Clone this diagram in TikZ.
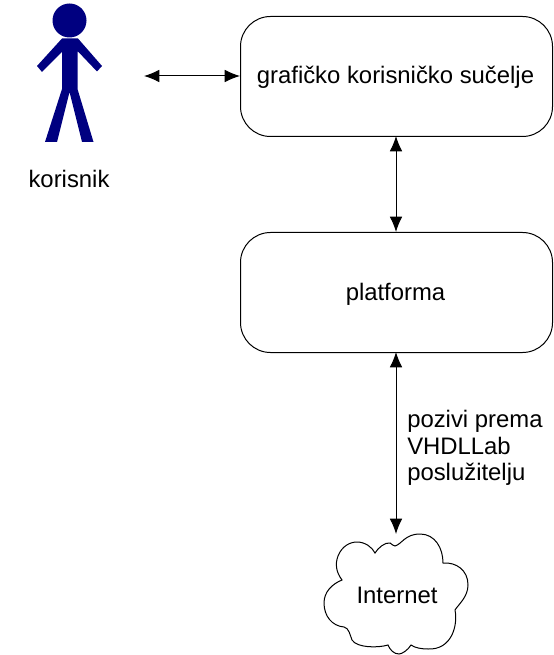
\documentclass[tikz,border=0pt]{standalone}
\usepackage{fontspec}
\setmainfont{Liberation Sans}
\usetikzlibrary{arrows.meta}
\definecolor{personblue}{RGB}{0,0,128}
\tikzset{
  x=0.75pt,y=-0.75pt,
  box/.style={draw=black,line width=0.75pt,rounded corners=22.5pt,minimum width=234pt,minimum height=90pt,inner sep=0pt,fill=white,anchor=north west},
  lbl/.style={font=\fontsize{17.9pt}{20pt}\selectfont,inner sep=0pt,text=black},
  link/.style={line width=0.75pt,{Latex[length=11.5pt,width=9.5pt]}-{Latex[length=11.5pt,width=9.5pt]}},
  person/.style={fill=personblue,draw=none},
}
\begin{document}
\begin{tikzpicture}
\useasboundingbox (0,0) rectangle (553,655);
\node[box] (gui) at (240,16) {};
\node[lbl] (guilabel) at (395.5,77) {grafičko korisničko sučelje};
\node[box] (plat) at (240,232) {};
\node[lbl] (platlabel) at (395.5,294) {platforma};
% person
\fill[person] (69.5,20.5) circle[radius=17];
\fill[person] (62,38.5) -- (78,38.5) -- (102,66) -- (97,71.5) -- (77.5,51) -- (77.5,89) -- (93.5,142) -- (82,142) -- (69.5,92) -- (57,142) -- (45,142) -- (62,89) -- (62,52) -- (42,72) -- (37,66) -- cycle;
\node[lbl] (user) at (69,179) {korisnik};
\coordinate (userend) at (144,76);
% cloud
\draw[line width=0.75pt,fill=white] (395,546)
 .. controls (402,544) and (405,534) .. (420,534)
 .. controls (435,534) and (443,548) .. (443,563)
 .. controls (456,562) and (468,570) .. (468,585)
 .. controls (468,597) and (458,605) .. (455,610)
 .. controls (458,625) and (452,650) .. (428,649)
 .. controls (422,649) and (415,648) .. (411,645)
 .. controls (408,650) and (402,654) .. (399,654)
 .. controls (394,654) and (390,650) .. (388,645)
 .. controls (378,648) and (357,648) .. (352,640)
 .. controls (350,635) and (349,628) .. (344,627)
 .. controls (332,626) and (324,616) .. (324,603)
 .. controls (324,592) and (332,584) .. (342,580)
 .. controls (336,572) and (335,564) .. (338,556)
 .. controls (342,546) and (350,542) .. (357,542)
 .. controls (365,542) and (372,547) .. (375,553)
 .. controls (378,548) and (385,542) .. (390,543)
 .. controls (392,544) and (393,546) .. (395,546) -- cycle;
\node[lbl] (net) at (397,595) {Internet};
\coordinate (nettop) at (396,534);
\coordinate (guibot) at (396,136);
\coordinate (plattop) at (396,232);
\coordinate (platbot) at (396,352);
\draw[link] (userend) -- (gui.west |- userend);
\draw[link] (guibot) -- (plattop);
\draw[link] (platbot) -- (nettop);
\node[lbl,align=left,anchor=north west] (call) at (407,410) {pozivi prema\\VHDLLab\\poslužitelju};
\end{tikzpicture}
\end{document}
